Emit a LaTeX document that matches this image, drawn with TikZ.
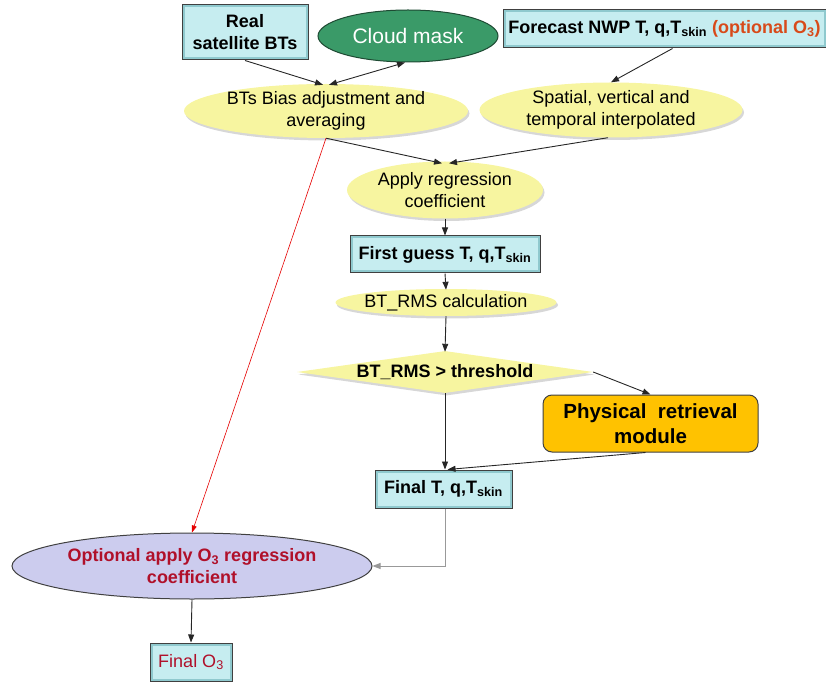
\documentclass[tikz,border=0pt]{standalone}
\usepackage{fontspec}
\setmainfont{Liberation Sans}
\usetikzlibrary{arrows.meta,shapes.geometric,shadows}
\definecolor{boxc}{HTML}{C6EDF0}
\definecolor{boxdark}{HTML}{8FC9CE}
\definecolor{yell}{HTML}{F7F5A0}
\definecolor{cgreen}{HTML}{3A9A68}
\definecolor{cgreendk}{HTML}{1E4A33}
\definecolor{lav}{HTML}{CCCCEE}
\definecolor{gold}{HTML}{FFC200}
\definecolor{redtxt}{HTML}{B0102A}
\definecolor{orng}{HTML}{D84A1A}
\begin{document}
\begin{tikzpicture}[x=1pt,y=-1pt,
  bx/.style={rectangle, draw=black!75, line width=1pt, fill=boxc, inner sep=0pt,
    font=\fontsize{18}{22}\selectfont\bfseries, align=center,
    path picture={\draw[boxdark, line width=5pt] (path picture bounding box.south west) rectangle (path picture bounding box.north east);}},
  yel/.style={ellipse, fill=yell, draw=none, inner sep=0pt,
    drop shadow={shadow xshift=1.5pt, shadow yshift=-2.5pt, fill=black!35, opacity=.45}},
  lab/.style={align=center, font=\fontsize{18}{22}\selectfont, inner sep=0pt},
  blab/.style={align=center, font=\fontsize{18}{22}\selectfont\bfseries, inner sep=0pt},
  arr/.style={draw=black!85, line width=0.9pt, -{Triangle[length=8pt,width=6pt]}},
  darr/.style={draw=black!85, line width=0.9pt, {Triangle[length=8pt,width=6pt]}-{Triangle[length=8pt,width=6pt]}},
  garr/.style={draw=black!40, line width=0.9pt, -{Triangle[length=8pt,width=6pt]}},
  rarr/.style={draw=red!90!black, line width=0.6pt, -{Triangle[length=7pt,width=5pt]}}
]
\useasboundingbox (0,0) rectangle (826,684);

% nodes
\node[bx, minimum width=126, minimum height=55] (real) at (245,32.5) {Real\\satellite BTs};
\node[ellipse, fill=cgreen, draw=cgreendk, line width=1pt, inner sep=0pt,
  minimum width=180, minimum height=52,
  label={[lab, text=white, font=\fontsize{21}{24}\selectfont]center:Cloud mask}] (cloud) at (408,36) {};
\node[bx, minimum width=323, minimum height=38] (fcst) at (664.5,29)
  {Forecast NWP T, q,T\textsubscript{skin} {\color{orng}(optional O\textsubscript{3})}};

\node[yel, minimum width=284, minimum height=54,
  label={[lab]center:{BTs Bias adjustment and\\averaging}}] (bias) at (326,111) {};
\node[yel, minimum width=263, minimum height=55,
  label={[lab]center:{Spatial, vertical and\\temporal interpolated}}] (spat) at (611,110) {};

\node[yel, minimum width=196, minimum height=57,
  label={[lab]center:{Apply regression\\coefficient}}] (apply) at (445,190) {};

\node[bx, minimum width=190, minimum height=37] (first) at (445,254.5) {First guess T, q,T\textsubscript{skin}};

\node[yel, minimum width=221, minimum height=27,
  label={[lab]center:{BT\_RMS calculation}}] (calc) at (446,302.5) {};

\node[diamond, fill=yell, draw=none, inner sep=0pt, minimum width=296, minimum height=42,
  drop shadow={shadow xshift=1.5pt, shadow yshift=-2.5pt, fill=black!35, opacity=.45},
  label={[blab]center:{BT\_RMS > threshold}}] (thr) at (445,372) {};

\node[rectangle, rounded corners=9pt, fill=gold, draw=black!75, line width=1pt,
  minimum width=215, minimum height=57, inner sep=0pt, align=center,
  font=\fontsize{20.5}{25}\selectfont\bfseries] (phys) at (650.5,423.5) {Physical\ \ retrieval\\module};

\node[bx, minimum width=137, minimum height=38] (finalT) at (443.5,489) {Final T, q,T\textsubscript{skin}};

\node[ellipse, fill=lav, draw=black!75, line width=1pt, inner sep=0pt,
  minimum width=360, minimum height=66,
  label={[blab, text=redtxt]center:{Optional apply O\textsubscript{3} regression\\coefficient}}] (opt) at (192,566) {};

\node[bx, minimum width=82, minimum height=38, font=\fontsize{18}{22}\selectfont, text=redtxt] (fo3) at (191,662) {Final O\textsubscript{3}};

% connectors
\draw[arr] (real.south) -- ([xshift=-3pt,yshift=-1pt]bias.north);
\draw[darr] ([xshift=-3pt]cloud.south) -- ([xshift=3pt,yshift=-1pt]bias.north);
\draw[arr] ([xshift=8pt]fcst.south) -- (spat.north);
\draw[arr] (bias.south) -- ([xshift=-3pt,yshift=-2pt]apply.north);
\draw[arr] ([xshift=-3pt]spat.south) -- ([xshift=4pt,yshift=-2pt]apply.north);
\draw[arr] (apply.south) -- (first.north);
\draw[arr] (first.south) -- ([yshift=-1pt]calc.north);
\draw[arr] (calc.south) -- ([yshift=-1pt]thr.north);
\draw[arr] (thr.east) -- (phys.north);
\draw[arr] (thr.south) -- ([xshift=1.5pt]finalT.north);
\draw[arr] ([xshift=-5pt]phys.south) -- ([xshift=4pt]finalT.north);
\draw[garr] ([xshift=1.5pt]finalT.south) |- (opt.east);
\draw[rarr] (bias.south) -- (opt.north);
\draw[arr] (opt.south) -- (fo3.north);
\end{tikzpicture}
\end{document}
